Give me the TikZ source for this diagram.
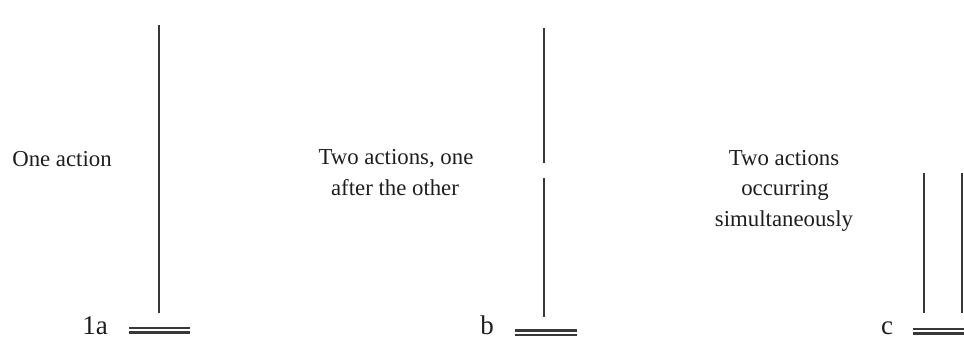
\documentclass[tikz,border=0pt]{standalone}
\usepackage{fontspec}
\setmainfont{Liberation Serif}
\definecolor{ink}{HTML}{1E1E1E}
\definecolor{stem}{HTML}{383838}
\tikzset{
  lbl/.style={anchor=base, inner sep=0pt, text=ink, font=\fontsize{22.8}{30}\selectfont},
  tag/.style={anchor=base, inner sep=0pt, text=ink, font=\fontsize{27}{30}\selectfont},
  stemline/.style={draw=stem, line width=1.9pt},
  barline/.style={draw=stem, line width=2.1pt}
}
\begin{document}
\begin{tikzpicture}[x=1pt,y=-1pt]
\useasboundingbox (0,0) rectangle (964,338);
% panel a
\node[lbl] (ta) at (62,166) {One action};
\coordinate (a1) at (159,25);
\coordinate (a2) at (159,313);
\draw[stemline] (a1) -- (a2);
\coordinate (ab1) at (129,328); \coordinate (ab2) at (190,328);
\coordinate (ab3) at (129,332.5); \coordinate (ab4) at (190,332.5);
\draw[barline] (ab1) -- (ab2);
\draw[barline] (ab3) -- (ab4);
\node[tag] (la) at (95,334) {1a};
% panel b
\node[lbl] (tb1) at (396,164) {Two actions, one};
\node[lbl] (tb2) at (395,195) {after the other};
\coordinate (b1) at (544,28);
\coordinate (b2) at (544,163);
\coordinate (b3) at (544,178);
\coordinate (b4) at (544,317);
\draw[stemline] (b1) -- (b2);
\draw[stemline] (b3) -- (b4);
\coordinate (bb1) at (515,330.5); \coordinate (bb2) at (577,330.5);
\coordinate (bb3) at (515,335); \coordinate (bb4) at (577,335);
\draw[barline] (bb1) -- (bb2);
\draw[barline] (bb3) -- (bb4);
\node[tag] (lb) at (487,334) {b};
% panel c
\node[lbl] (tc1) at (784,165) {Two actions};
\node[lbl] (tc2) at (785,195) {occurring};
\node[lbl] (tc3) at (784,226) {simultaneously};
\coordinate (c1) at (924,173);
\coordinate (c2) at (924,313);
\coordinate (c3) at (962,173);
\coordinate (c4) at (962,313);
\draw[stemline] (c1) -- (c2);
\draw[stemline] (c3) -- (c4);
\coordinate (cb1) at (913,329); \coordinate (cb2) at (964,329);
\coordinate (cb3) at (913,333.5); \coordinate (cb4) at (964,333.5);
\draw[barline] (cb1) -- (cb2);
\draw[barline] (cb3) -- (cb4);
\node[tag] (lc) at (887,334) {c};
\end{tikzpicture}
\end{document}
